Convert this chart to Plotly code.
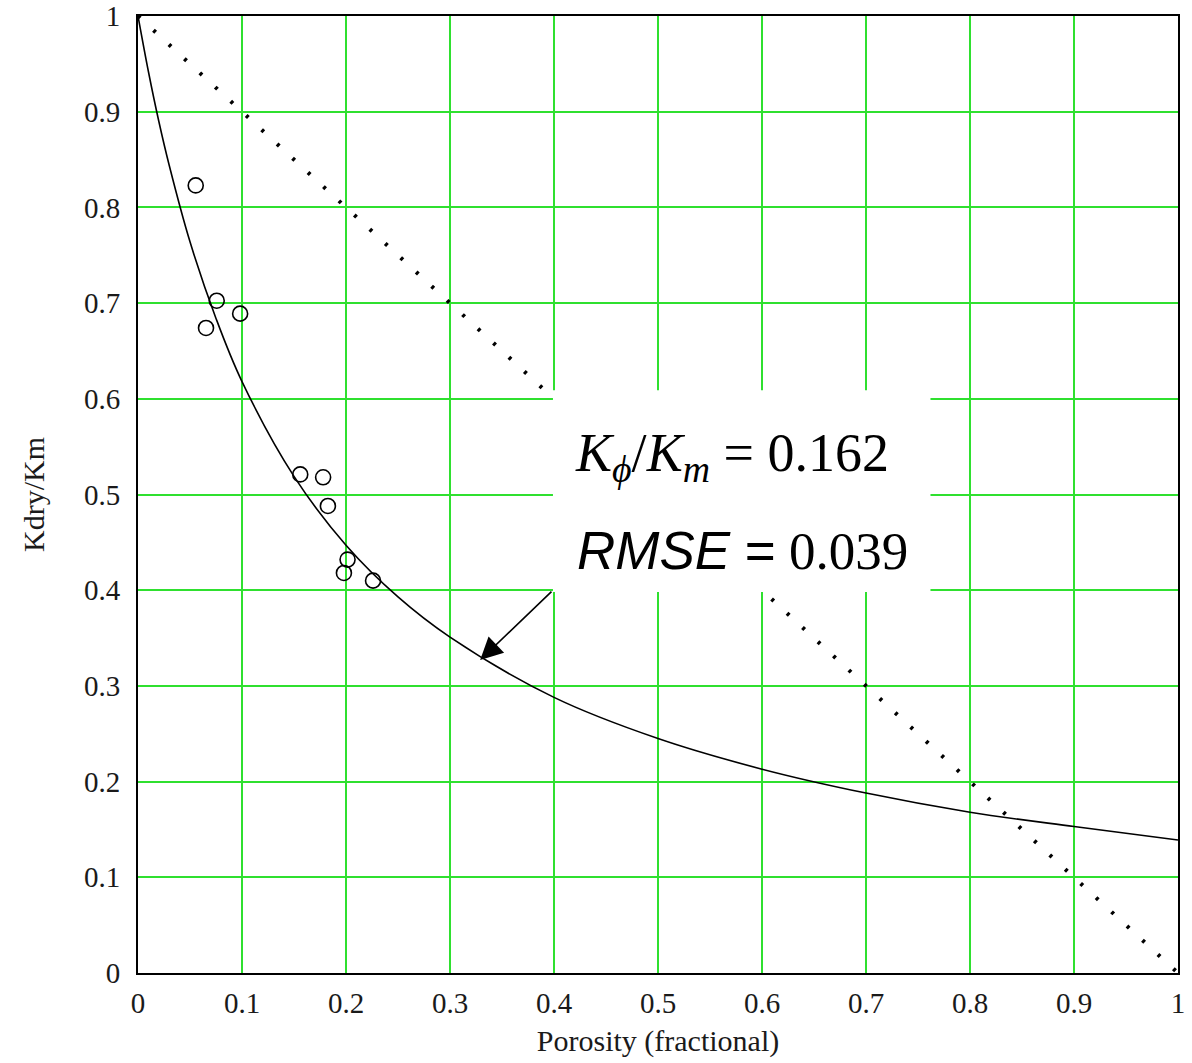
import plotly.graph_objects as go

# Measured samples: porosity vs. normalized dry-rock bulk modulus
porosity = [0.0555, 0.0757, 0.0654, 0.0982, 0.156, 0.178, 0.1826, 0.2015, 0.198, 0.226]
kdry_km = [0.823, 0.7025, 0.674, 0.689, 0.521, 0.518, 0.488, 0.432, 0.418, 0.410]

# Fitted model curve (K_phi/K_m = 0.162)
fit_phi = [0.0, 0.01, 0.02, 0.03, 0.05, 0.075, 0.1, 0.15, 0.2, 0.25, 0.3, 0.4,
           0.5, 0.6, 0.7, 0.8, 0.9, 1.0]
fit_k = [1.0, 0.942, 0.890, 0.844, 0.764, 0.684, 0.618, 0.519, 0.447, 0.393,
         0.351, 0.288, 0.245, 0.213, 0.188, 0.168, 0.153, 0.139]

# Upper bound line (Voigt-type linear trend)
bound_phi = [0.0, 1.0]
bound_k = [1.0, 0.0]

tick_vals = [0, 0.1, 0.2, 0.3, 0.4, 0.5, 0.6, 0.7, 0.8, 0.9, 1]
tick_text = ["0", "0.1", "0.2", "0.3", "0.4", "0.5", "0.6", "0.7", "0.8", "0.9", "1"]

fit_label = "<i>K</i><sub><i>ϕ</i></sub>/<i>K</i><sub><i>m</i></sub> = 0.162"
rmse_label = "<span style='font-family:Liberation Sans, Arial'><i>RMSE</i> =</span> 0.039"

SERIF = "Liberation Serif, Times New Roman, serif"
GRID = "#2fe02f"

fig = go.Figure()

fig.add_trace(go.Scatter(
    x=bound_phi, y=bound_k, mode="lines",
    line=dict(color="black", width=4, dash="3px,18px"),
    showlegend=False, hoverinfo="skip",
))
fig.add_trace(go.Scatter(
    x=fit_phi, y=fit_k, mode="lines", line_shape="spline",
    line=dict(color="black", width=1.6),
    showlegend=False,
))
fig.add_trace(go.Scatter(
    x=porosity, y=kdry_km, mode="markers",
    marker=dict(symbol="circle-open", size=15, color="black", line=dict(width=1.6)),
    showlegend=False,
))

# White label box
fig.add_shape(type="rect", xref="x", yref="y",
              x0=0.399, x1=0.762, y0=0.398, y1=0.609,
              fillcolor="white", line=dict(width=0), layer="above")

fig.add_annotation(xref="paper", yref="paper", x=(573 - 138) / 1040, y=(973 - 456) / 957,
                   xanchor="left", yanchor="middle", text=fit_label, showarrow=False,
                   font=dict(family=SERIF, size=54, color="black"))
fig.add_annotation(xref="paper", yref="paper", x=(575 - 138) / 1040, y=(973 - 550) / 957,
                   xanchor="left", yanchor="middle", text=rmse_label, showarrow=False,
                   font=dict(family=SERIF, size=53, color="black"))

# Arrow pointing at the fitted curve
fig.add_annotation(x=0.329, y=0.327, ax=0.399, ay=0.400, xref="x", yref="y",
                   axref="x", ayref="y", text="", showarrow=True,
                   arrowhead=2, arrowsize=2.8, arrowwidth=1.6, arrowcolor="black")

axis_common = dict(
    range=[0, 1], tickvals=tick_vals, ticktext=tick_text,
    showgrid=True, gridcolor=GRID, gridwidth=2,
    showline=True, linecolor="black", linewidth=2, mirror=True,
    zeroline=False, ticks="", automargin=False,
    tickfont=dict(family=SERIF, size=29, color="#1a1a1a"),
    title_font=dict(family=SERIF, size=30, color="#1a1a1a"),
)

fig.update_xaxes(**axis_common, title_text="Porosity (fractional)",
                 title_standoff=12, ticklabelstandoff=3)
fig.update_yaxes(**axis_common, title_text="Kdry/Km",
                 title_standoff=30, ticklabelstandoff=10)

fig.update_layout(
    width=1192, height=1063,
    margin=dict(l=138, r=14, t=16, b=90),
    plot_bgcolor="white", paper_bgcolor="white",
)

fig.write_html("out.html")
